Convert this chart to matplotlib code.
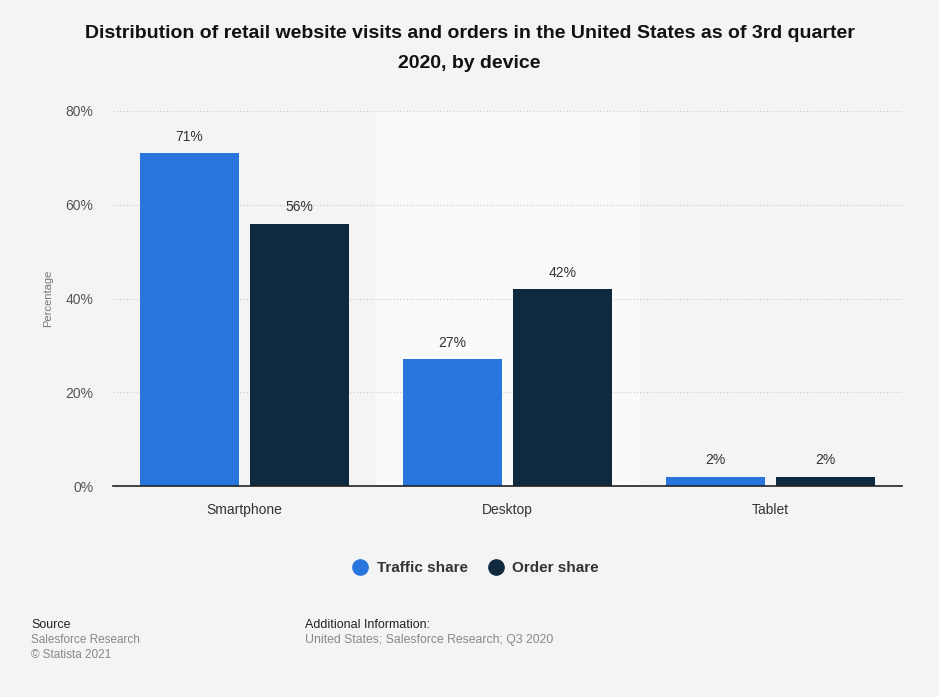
import numpy as np
import matplotlib.pyplot as plt
from matplotlib.lines import Line2D

plt.rcParams["font.family"] = ["Liberation Sans", "DejaVu Sans"]

categories = ["Smartphone", "Desktop", "Tablet"]
traffic_share = [71, 27, 2]
order_share = [56, 42, 2]
yticks = [0, 20, 40, 60, 80]

BG = "#f4f4f4"
BLUE = "#2876dd"
NAVY = "#0f2a3f"

fig = plt.figure(figsize=(9.39, 6.97), dpi=100, facecolor=BG)
ax = fig.add_axes([113 / 939, 1 - 486 / 697, (902 - 113) / 939, (486 - 111) / 697])
ax.set_facecolor(BG)

x = np.arange(len(categories))
w = 0.376
off = 0.209

# lighter band behind the middle group
ax.axvspan(0.5, 1.5, color="#fafafa", zorder=0)

b1 = ax.bar(x - off, traffic_share, w, color=BLUE, zorder=2)
b2 = ax.bar(x + off, order_share, w, color=NAVY, zorder=2)

for bars, vals in ((b1, traffic_share), (b2, order_share)):
    for b, v in zip(bars, vals):
        ax.text(b.get_x() + b.get_width() / 2, v + 2.0, f"{v}%",
                ha="center", va="bottom", fontsize=10, color="#333333")

ax.set_xlim(-0.5, 2.5)
ax.set_ylim(0, 80)
ax.set_yticks(yticks)
ax.set_yticklabels([f"{t}%" for t in yticks], fontsize=10, color="#555555")
ax.set_xticks(x)
ax.set_xticklabels(categories, fontsize=10, color="#333333")
ax.tick_params(axis="both", length=0)
ax.tick_params(axis="y", pad=14)
ax.tick_params(axis="x", pad=12)
ax.grid(axis="y", color="#c8c8c8", linestyle=(0, (1, 2)), linewidth=0.8, zorder=1)
for s in ["top", "right", "left"]:
    ax.spines[s].set_visible(False)
ax.spines["bottom"].set_color("#222222")
ax.spines["bottom"].set_linewidth(1.2)
ax.spines["bottom"].set_zorder(3)
ax.set_ylabel("Percentage", fontsize=8, color="#777777", labelpad=9)

fig.text(0.5, 1 - 33 / 697,
         "Distribution of retail website visits and orders in the United States as of 3rd quarter",
         ha="center", va="center", fontsize=14, fontweight="bold", color="#111111")
fig.text(0.5, 1 - 63 / 697, "2020, by device",
         ha="center", va="center", fontsize=14, fontweight="bold", color="#111111")

handles = [
    Line2D([], [], marker="o", linestyle="", markersize=11, color=BLUE),
    Line2D([], [], marker="o", linestyle="", markersize=11, color=NAVY),
]
leg = fig.legend(handles, ["Traffic share", "Order share"], loc="center",
                 bbox_to_anchor=(472 / 939, 1 - 568 / 697), ncol=2, frameon=False,
                 prop={"weight": "bold", "size": 11}, handletextpad=0.1,
                 columnspacing=0.8)
for t in leg.get_texts():
    t.set_color("#333333")

fig.text(31 / 939, 1 - 625 / 697, "Source", fontsize=9, color="#222222", va="center")
fig.text(31 / 939, 1 - 640 / 697, "Salesforce Research", fontsize=8.5, color="#888888", va="center")
fig.text(31 / 939, 1 - 655 / 697, "© Statista 2021", fontsize=8.5, color="#888888", va="center")
fig.text(305 / 939, 1 - 625 / 697, "Additional Information:", fontsize=9, color="#222222", va="center")
fig.text(305 / 939, 1 - 640 / 697, "United States; Salesforce Research; Q3 2020",
         fontsize=8.8, color="#888888", va="center")

fig.savefig("out.png", dpi=100, facecolor=BG)
